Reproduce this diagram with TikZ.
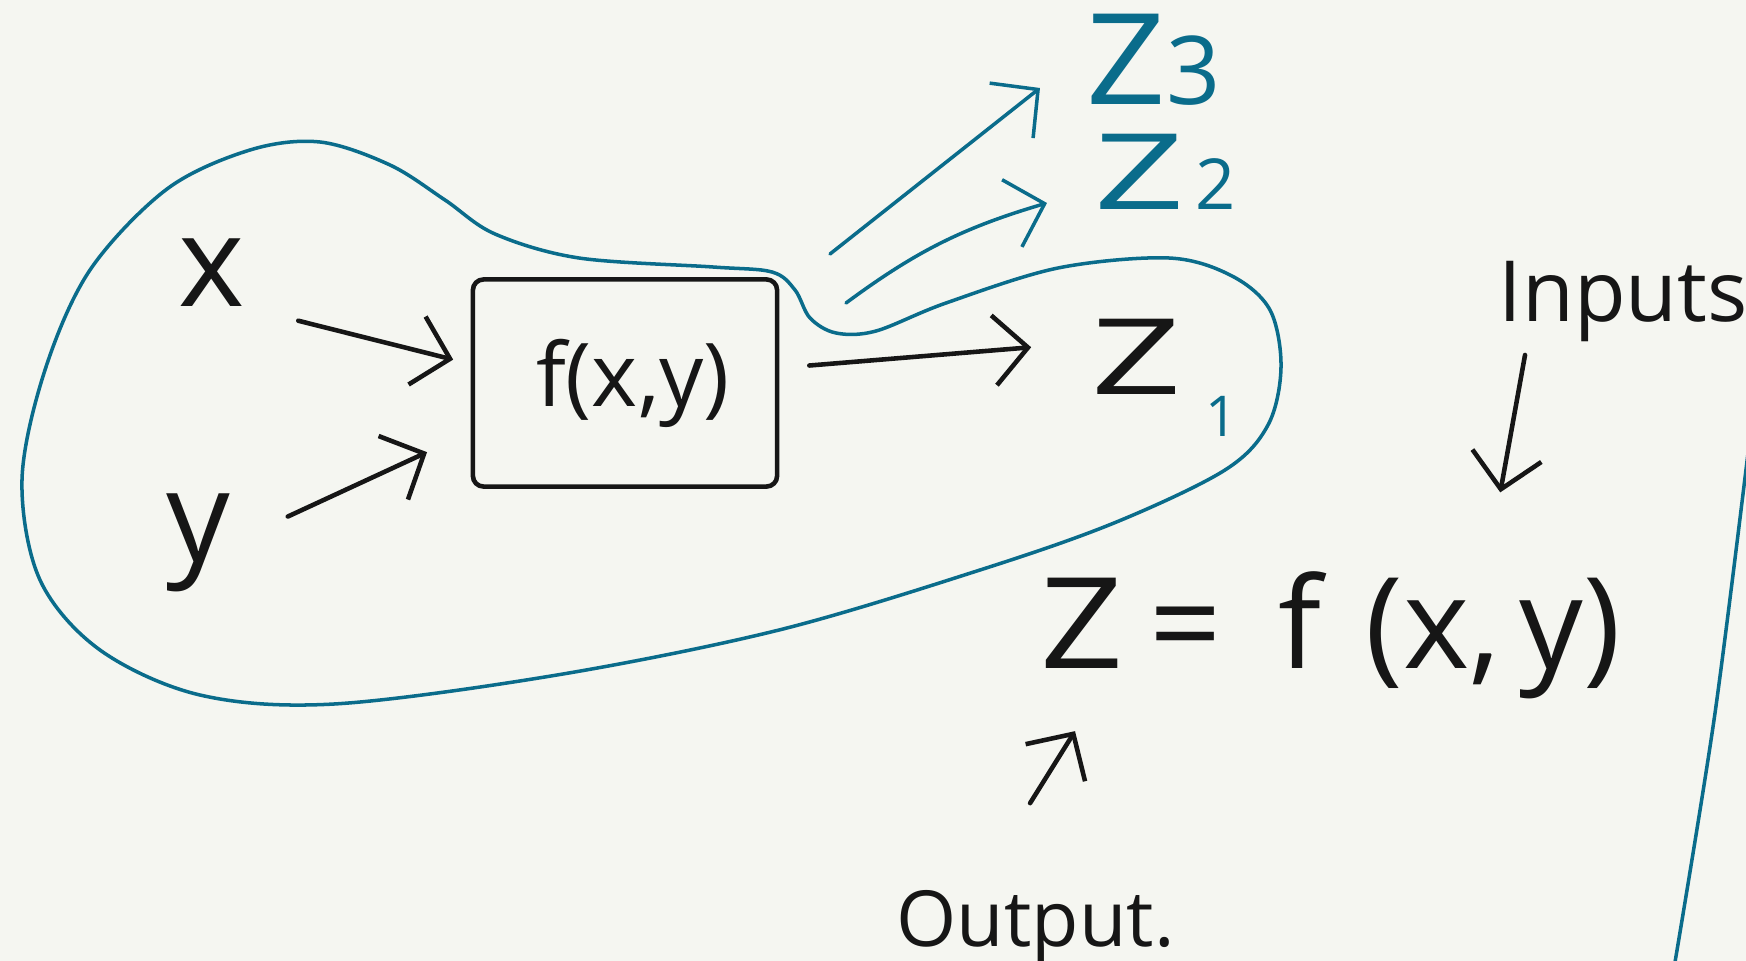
\documentclass[tikz,border=0pt]{standalone}
\usepackage{fontspec}
\setmainfont{Open Sans}
\usetikzlibrary{arrows.meta,positioning}
\definecolor{paper}{HTML}{F5F6F1}
\definecolor{ink}{HTML}{161616}
\definecolor{inkblue}{HTML}{0A6C8B}

\begin{document}
\begin{tikzpicture}[x=0.01cm,y=-0.01cm,
  every node/.style={text=ink,inner sep=0pt},
  inkline/.style={draw=ink,line width=1.3pt,line cap=round,line join=round},
  blueline/.style={draw=inkblue,line width=1pt,line cap=round,line join=round},
  inkarrow/.style={inkline,-{Straight Barb[length=3.4mm,width=7mm]}},
  bluearrow/.style={blueline,-{Straight Barb[length=3.4mm,width=7mm]}},
  hand/.style={font=\fontsize{#1}{#1}\selectfont}]
\fill[paper] (0,0) rectangle (1746,961);
\clip (0,0) rectangle (1746,961);
\draw[blueline] plot[smooth cycle,tension=0.55] coordinates {(22,480) (45,370) (90,270) (167,189) (250,150) (320,142) (390,165) (445,200) (495,234) (579,258) (713,267) (772,272) (795,290) (810,318) (836,333) (876,331) (946,303) (1058,268) (1169,258) (1232,276) (1270,310) (1281,367) (1268,425) (1225,470) (1114,523) (980,570) (779,630) (557,675) (334,704) (200,695) (100,650) (40,580)};
\draw[blueline] plot[smooth,tension=0.5] coordinates {(1752,420) (1715,713) (1674,968)};
\node[hand=36] (xin) at (212,273) {x};
\node[hand=36] (yin) at (198,543) {y};
\node[inkline,hand=25,minimum width=3.04cm,minimum height=2.07cm,rounded corners=3pt] (fbox) at (625,383) {\hspace{1.6mm}f(x,y)};
\node[hand=30,anchor=base west] (z1) at (1091,395) {\scalebox{1.5}[1]{Z}};
\node[hand=16,text=inkblue,anchor=north west] (z1sub) at ([xshift=2.2mm]z1.south east) {1};
\node[hand=36,text=inkblue,anchor=base west] (z3) at (1086,105) {\scalebox{1.1}[1]{Z}\fontsize{27}{27}\selectfont 3};
\node[hand=30,text=inkblue,anchor=base west] (z2) at (1094,210) {\scalebox{1.5}[1]{Z}\hspace{1mm}\fontsize{20}{20}\selectfont 2};
\node[hand=24,anchor=base west] (inputs) at (1498,322) {Inputs};
\node[hand=36,anchor=base west] (eqn) at (1040,668) {\scalebox{1.15}[1]{Z}\hspace{0.2em}=\hspace{0.45em}f\hspace{0.35em}(x,\hspace{0.15em}y)};
\node[hand=22,anchor=base west] (output) at (896,946) {Output.};
\coordinate (z3tail) at (830,254);
\coordinate (z2tail) at (846,303);
\draw[inkarrow,shorten <=5.4mm,shorten >=1.8mm] (xin.south east) -- ([yshift=1.9mm]fbox.west);
\draw[inkarrow,shorten <=6.3mm,shorten >=4.8mm] (yin.east) -- ([yshift=-4.9mm]fbox.west);
\draw[inkarrow,shorten <=3mm,shorten >=6mm] ([yshift=1.5mm]fbox.east) -- ([yshift=1.5mm]z1.west);
\draw[bluearrow] (z3tail) -- ([xshift=-4.6mm,yshift=1.7mm]z3.base west);
\draw[bluearrow] (z2tail) to[bend left=10] ([xshift=-4.7mm,yshift=0.7mm]z2.base west);
\draw[inkarrow] ([xshift=2.7mm,yshift=-1.2mm]inputs.south west) -- ([xshift=4.6cm,yshift=7.8mm]eqn.north west);
\draw[inkarrow] ([xshift=1.34cm,yshift=8.6mm]output.north west) -- ([xshift=3.5mm,yshift=-3.2mm]eqn.south west);
\end{tikzpicture}
\end{document}
